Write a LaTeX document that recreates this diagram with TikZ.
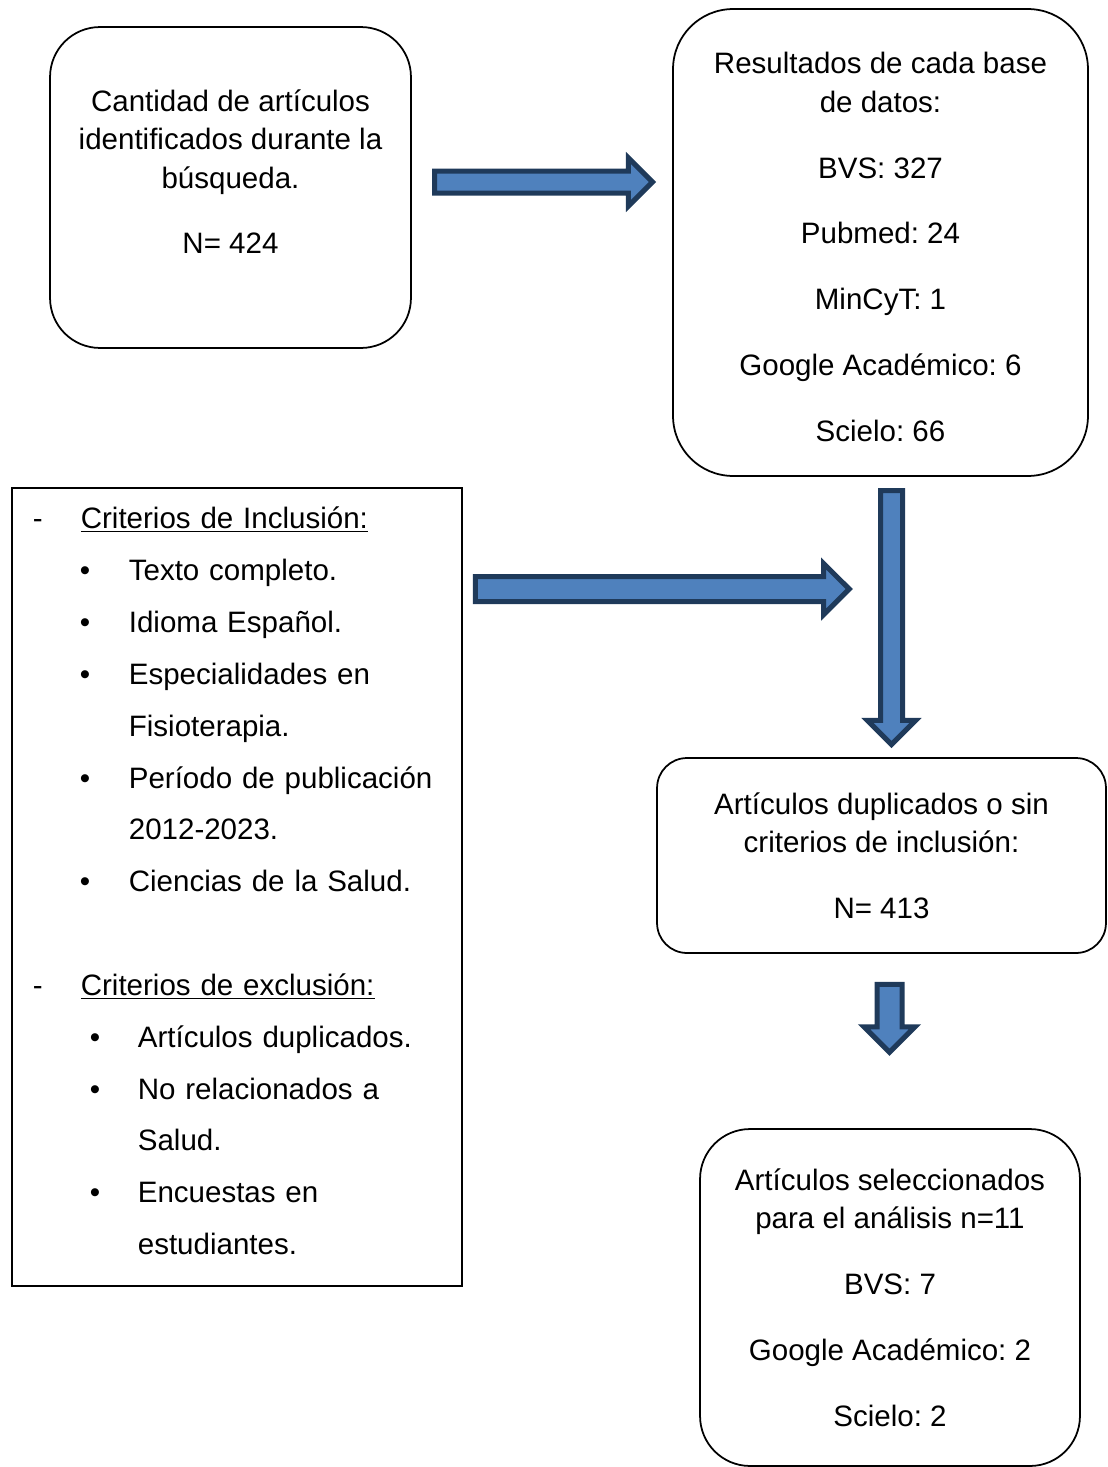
\documentclass[tikz,border=0pt]{standalone}
\usepackage{fontspec}
\setmainfont{Liberation Sans}
\usetikzlibrary{shapes.arrows}

\definecolor{relleno}{HTML}{4F81BD}
\definecolor{contorno}{HTML}{1F3A5A}

% lineas de la lista de criterios
\newcommand{\guion}[1]{\hspace*{0.42cm}\makebox[0.96cm][l]{-}\underline{#1}}
\newcommand{\vinuno}[1]{\hspace*{1.36cm}\makebox[0.98cm][l]{\textbullet}#1}
\newcommand{\vindos}[1]{\hspace*{1.56cm}\makebox[0.96cm][l]{\textbullet}#1}

\begin{document}
\frenchspacing
\begin{tikzpicture}
        [x=0.02cm, y=-0.02cm,
        caja/.style={draw, line width=1pt, align=center, inner sep=0pt,
          font=\fontsize{16.8}{21.9}\selectfont\frenchspacing},
        criterios/.style={draw, line width=1pt, align=left, text width=9cm,
          inner sep=0pt, minimum height=15.96cm, font=\fontsize{16.8}{29.5}\selectfont\frenchspacing},
        flecha/.style={single arrow, draw=contorno, fill=relleno, line width=0.1cm,
          single arrow tip angle=90, single arrow head indent=0pt,
          single arrow head extend=0.26cm, inner sep=0.17cm}]

        \useasboundingbox (0,0) rectangle (1108,1467);

        % cajas redondeadas
        \node[caja, rounded corners=1cm, minimum width=7.22cm, minimum height=6.42cm]
          (busqueda) at (230.5,187.5)
          {Cantidad de artículos\\identificados durante la\\búsqueda.\\[15.6pt]N= 424\\[-3.8pt]\mbox{}};
        \node[caja, rounded corners=1.2cm, minimum width=8.3cm, minimum height=9.34cm]
          (bases) at (880.5,242.5)
          {\mbox{}\\[-4.5pt]Resultados de cada base\\de datos:\\[15.6pt]BVS: 327\\[15.6pt]Pubmed: 24\\[15.6pt]MinCyT: 1\\[15.6pt]Google Académico: 6\\[15.6pt]Scielo: 66};
        \node[caja, rounded corners=0.6cm, minimum width=8.98cm, minimum height=3.9cm]
          (duplicados) at (881.5,855.5)
          {Artículos duplicados o sin\\criterios de inclusión:\\[15.6pt]N= 413};
        \node[caja, rounded corners=1cm, minimum width=7.6cm, minimum height=6.74cm]
          (seleccion) at (890,1297.5)
          {Artículos seleccionados\\para el análisis n=11\\[15.6pt]BVS: 7\\[15.6pt]Google Académico: 2\\[15.6pt]Scielo: 2};

        % criterios
        \node[criterios, anchor=north west] (criterios) at (11,487) {%
          \guion{Criterios de Inclusión:}\\
          \vinuno{Texto completo.}\\
          \vinuno{Idioma Español.}\\
          \vinuno{Especialidades en}\\
          \hspace*{2.34cm}Fisioterapia.\\
          \vinuno{Período de publicación}\\
          \hspace*{2.34cm}2012-2023.\\
          \vinuno{Ciencias de la Salud.}\\
          \mbox{}\\
          \guion{Criterios de exclusión:}\\
          \vindos{Artículos duplicados.}\\
          \vindos{No relacionados a}\\
          \hspace*{2.52cm}Salud.\\
          \vindos{Encuestas en}\\
          \hspace*{2.52cm}estudiantes.\\[-22.7pt]\mbox{}};

        % flechas de bloque
        \node[flecha, minimum height=4.36cm] (f1) at (538,182) {};
        \node[flecha, minimum height=7.48cm, inner sep=0.2cm] (f2) at (656,589) {};
        \node[flecha, minimum height=5.08cm, rotate=-90] (f3) at (891.5,612) {};
        \node[flecha, minimum height=1.36cm, inner sep=0.2cm, rotate=-90] (f4) at (889.5,1012) {};

    \end{tikzpicture}
\end{document}
